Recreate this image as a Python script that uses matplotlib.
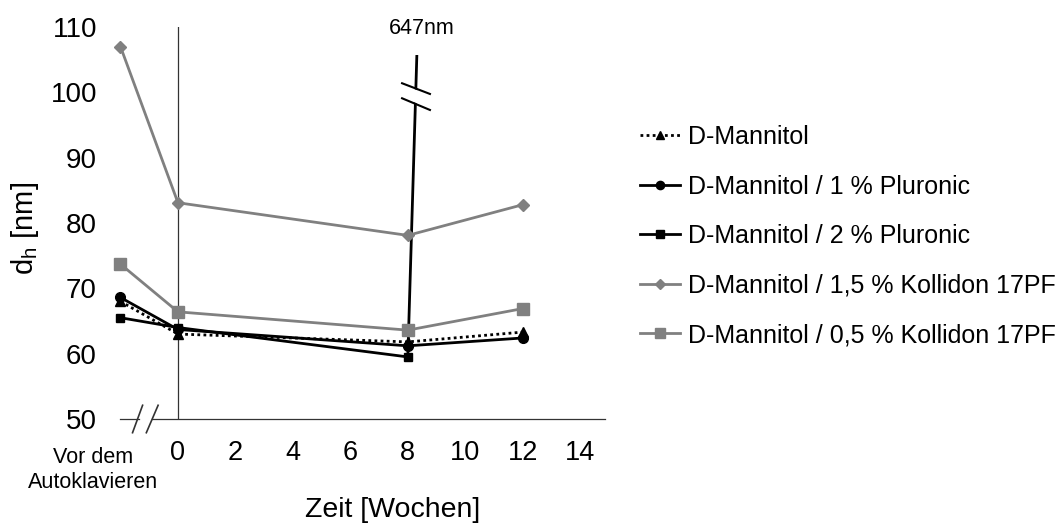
import matplotlib.pyplot as plt
from matplotlib.patches import Rectangle, Polygon

plt.rcParams['font.family'] = ['Liberation Sans', 'DejaVu Sans']
plt.rcParams['mathtext.fontset'] = 'custom'
plt.rcParams['mathtext.rm'] = 'Liberation Sans'
plt.rcParams['mathtext.it'] = 'Liberation Sans:italic'

# week -2 stands for the sample measured before autoclaving
weeks = [-2, 0, 8, 12]
mannitol = [68.0, 63.0, 61.8, 63.3]
pluronic_1 = [68.6, 63.7, 61.2, 62.4]
pluronic_2 = [65.5, 64.0, 59.5, 647.0]
kollidon_15 = [107.0, 83.1, 78.1, 82.8]
kollidon_05 = [73.7, 66.4, 63.6, 66.9]

labels = ['D-Mannitol',
          'D-Mannitol / 1 % Pluronic',
          'D-Mannitol / 2 % Pluronic',
          'D-Mannitol / 1,5 % Kollidon 17PF',
          'D-Mannitol / 0,5 % Kollidon 17PF']
xticks = [0, 2, 4, 6, 8, 10, 12, 14]
yticks = [50, 60, 70, 80, 90, 100, 110]

GRAY = '#808080'
AXC = '#333333'

fig = plt.figure(figsize=(10.62, 5.24), dpi=100)
ax = fig.add_axes([0.0945, 0.2004, 0.4789, 0.7481])
ax.set_xlim(-2.7, 15)
ax.set_ylim(50, 110)
for s in ax.spines.values():
    s.set_visible(False)

h1, = ax.plot(weeks, mannitol, ls=(0, (1, 1.2)), color='black', lw=2, marker='^', ms=7,
              label=labels[0])
h2, = ax.plot(weeks, pluronic_1, ls='-', color='black', lw=2, marker='o', ms=7, label=labels[1])
h3, = ax.plot(weeks, pluronic_2, ls='-', color='black', lw=2, marker='s', ms=6, label=labels[2])
# the 647 nm value runs off the scale, cut the line below the top
h3.set_clip_path(Rectangle((-3, 40), 20, 65.7, transform=ax.transData))
h4, = ax.plot(weeks, kollidon_15, ls='-', color=GRAY, lw=2, marker='D', ms=6.5, label=labels[3])
h5, = ax.plot(weeks, kollidon_05, ls='-', color=GRAY, lw=2, marker='s', ms=8.5, label=labels[4])

# break marks on the off-scale line
ax.add_patch(Polygon([[7.8, 101.2], [8.77, 99.6], [8.77, 97.5], [7.8, 99.2]],
                     closed=True, facecolor='white', edgecolor='none', zorder=3))
ax.plot([7.8, 8.77], [101.39, 99.75], color='black', lw=1.5, zorder=4)
ax.plot([7.8, 8.77], [99.09, 97.30], color='black', lw=1.5, zorder=4)
ax.text(8.5, 109.7, '647nm', ha='center', va='center', fontsize=15.5, clip_on=False)

# axes drawn by hand: y axis at week 0, broken x axis
ax.axvline(0, color=AXC, lw=0.9, zorder=1)
ax.plot([-2, -1.37], [50, 50], color=AXC, lw=0.9, clip_on=False)
ax.plot([-0.89, 14.85], [50, 50], color=AXC, lw=0.9, clip_on=False)
ax.plot([-1.58, -1.23], [47.9, 52.1], color=AXC, lw=1.2, clip_on=False)
ax.plot([-1.10, -0.69], [47.9, 52.1], color=AXC, lw=1.2, clip_on=False)

ax.set_xticks(xticks)
ax.set_yticks(yticks)
ax.tick_params(axis='x', length=0, pad=15, labelsize=19.5)
ax.tick_params(axis='y', length=0, pad=2.5, labelsize=20)
ax.text(-2.96, 42.2, 'Vor dem\nAutoklavieren', ha='center', va='center',
        fontsize=15.5, clip_on=False)

fig.text(25 / 1062, 1 - 228 / 524, r'd$_\mathrm{h}$ [nm]', rotation=90,
         ha='center', va='center', fontsize=21)
fig.text(392.5 / 1062, 1 - 510 / 524, 'Zeit [Wochen]', ha='center', va='center', fontsize=20.5)

fig.legend(handles=[h1, h2, h3, h4, h5], loc='upper left',
           bbox_to_anchor=(640 / 1062, 1 - 125 / 524), frameon=False, fontsize=18,
           handlelength=1.6, handletextpad=0.3, labelspacing=1.02, borderpad=0,
           borderaxespad=0, markerscale=0.85)

fig.savefig('out.png', dpi=100)
